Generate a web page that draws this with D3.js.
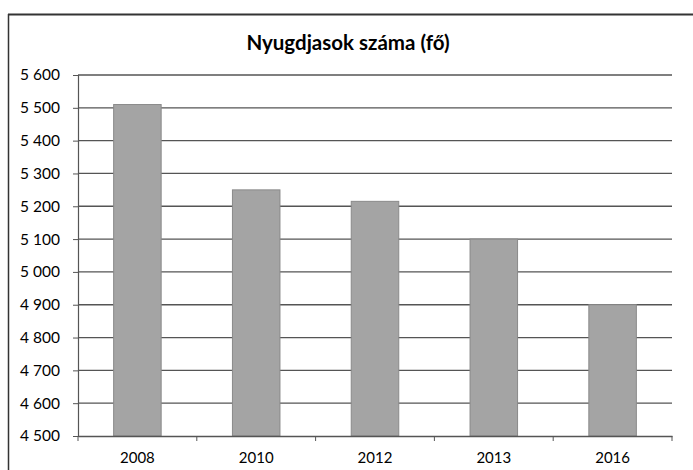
<!DOCTYPE html>
<html><head><meta charset="utf-8">
<script src="https://cdn.jsdelivr.net/npm/d3@7"></script>
<style>body{margin:0;background:#fff}svg{display:block}</style>
</head><body><svg id="c" width="693" height="470"></svg>
<script>
const title = "Nyugdjasok száma (fő)";
const categories = ["2008","2010","2012","2013","2016"];
const values = [5510, 5250, 5215, 5100, 4900];
const yTicks = [4500,4600,4700,4800,4900,5000,5100,5200,5300,5400,5500,5600];
const fmt = v => d3.format(",")(v).replace(",", "\u00a0");

const svg = d3.select("#c");
const W = 693, H = 470;
const m = {left:78, right:672, top:75, bottom:436};
const font = "Lato, 'Open Sans', sans-serif";

// outer frame
svg.append("rect").attr("width",W).attr("height",H).attr("fill","#fff");
svg.append("line").attr("x1",8).attr("x2",W).attr("y1",14.5).attr("y2",14.5).attr("stroke","#333").attr("stroke-width",2);
svg.append("line").attr("x1",8.5).attr("x2",8.5).attr("y1",14).attr("y2",H).attr("stroke","#333").attr("stroke-width",1.5);

const x = d3.scaleBand().domain(categories).range([m.left,m.right]).paddingInner(0.6).paddingOuter(0.3);
const xb = d3.scaleBand().domain(categories).range([m.left,m.right]);
const y = d3.scaleLinear().domain([4500,5600]).range([m.bottom,m.top]);

// gridlines
svg.append("g").selectAll("line").data(yTicks.slice(1)).join("line")
  .attr("x1",m.left).attr("x2",m.right)
  .attr("y1",d=>y(d)).attr("y2",d=>y(d))
  .attr("stroke","#555").attr("stroke-width",1.3);

// bars
svg.append("g").selectAll("rect").data(values).join("rect")
  .attr("x",(d,i)=>x(categories[i])).attr("width",x.bandwidth())
  .attr("y",d=>y(d)).attr("height",d=>y(4500)-y(d))
  .attr("fill","#a4a4a4").attr("stroke","#8a8a8a").attr("stroke-width",1);

// y axis
const ya = svg.append("g").attr("transform",`translate(${m.left},0)`)
  .call(d3.axisLeft(y).tickValues(yTicks).tickSize(5).tickPadding(13).tickFormat(fmt));
ya.select(".domain").attr("stroke","#555").attr("stroke-width",1.2);
ya.selectAll(".tick line").attr("stroke","#555");
ya.selectAll("text").attr("font-family",font).attr("font-size",15.5).attr("fill","#000");

// x axis
const xa = svg.append("g").attr("transform",`translate(0,${m.bottom})`)
  .call(d3.axisBottom(xb).tickSize(0).tickPadding(16));
xa.select(".domain").attr("stroke","#555").attr("stroke-width",1.3);
xa.selectAll("text").attr("font-family",font).attr("font-size",15).attr("fill","#000");
// category boundary ticks
const bounds = categories.map(c=>xb(c)).concat([m.right]);
xa.append("g").selectAll("line").data(bounds).join("line")
  .attr("x1",d=>d).attr("x2",d=>d).attr("y1",0).attr("y2",5).attr("stroke","#555");

// title
svg.append("text").attr("x",348).attr("y",50).attr("text-anchor","middle")
  .attr("font-family",font).attr("font-weight","bold").attr("font-size",20.5).attr("fill","#000")
  .text(title);
</script></body></html>
